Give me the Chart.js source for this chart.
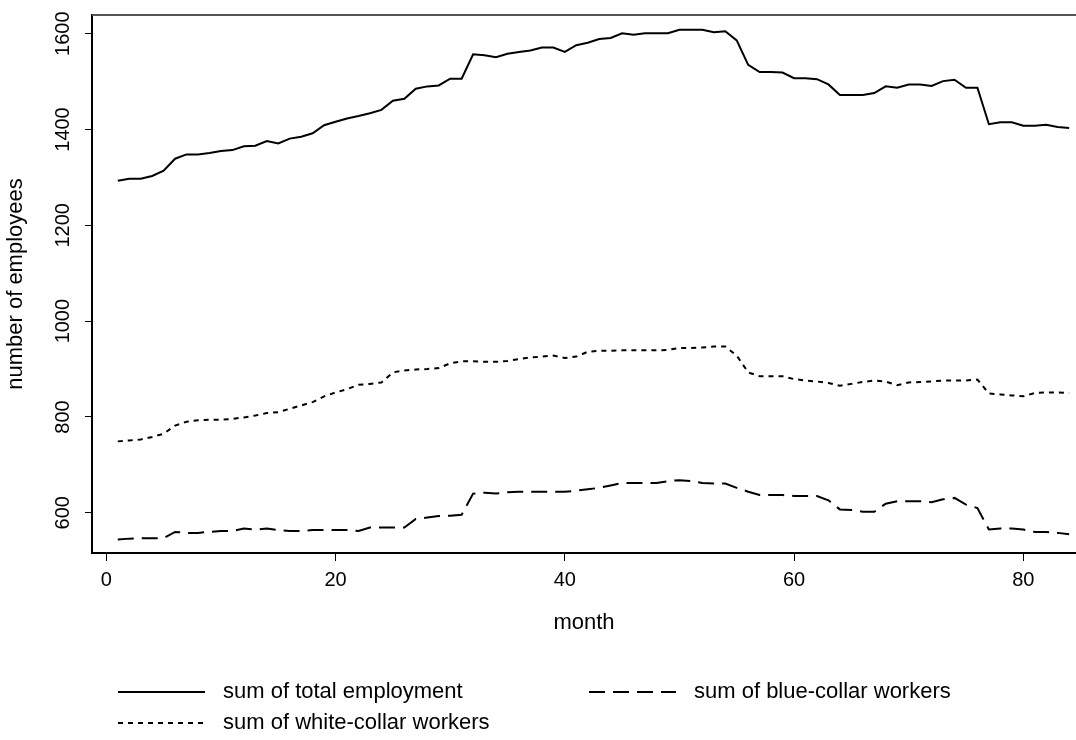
<!DOCTYPE html>
<html>
<head>
<meta charset="utf-8">
<script src="https://cdn.jsdelivr.net/npm/chart.js@4"></script>
<style>
  html, body { margin: 0; padding: 0; background: #fff; }
  canvas { display: block; }
</style>
</head>
<body>
<canvas id="mycanvas" width="1076" height="740"></canvas>
<script>
var months = [1,2,3,4,5,6,7,8,9,10,11,12,13,14,15,16,17,18,19,20,
  21,22,23,24,25,26,27,28,29,30,31,32,33,34,35,36,37,38,39,40,
  41,42,43,44,45,46,47,48,49,50,51,52,53,54,55,56,57,58,59,60,
  61,62,63,64,65,66,67,68,69,70,71,72,73,74,75,76,77,78,79,80,
  81,82,83,84];

var totalEmployment = [1293,1297,1297,1303,1314,1339,1348,1348,1351,1355,
  1357,1365,1366,1376,1371,1381,1385,1392,1409,1416,
  1423,1428,1434,1441,1460,1464,1485,1490,1492,1506,
  1506,1557,1555,1551,1558,1562,1565,1571,1571,1562,
  1576,1581,1589,1591,1601,1598,1601,1601,1601,1608,
  1608,1608,1603,1605,1586,1535,1520,1520,1519,1507,
  1507,1505,1494,1472,1472,1472,1476,1490,1487,1494,
  1494,1491,1501,1504,1487,1487,1411,1415,1415,1408,
  1408,1410,1405,1403];

var whiteCollar = [749,751,753,758,765,782,790,793,794,794,
  796,799,803,808,810,817,824,831,843,851,
  858,867,869,872,893,897,899,900,902,912,
  916,916,915,915,917,921,924,926,928,923,
  926,936,938,938,939,939,939,939,940,944,
  944,945,947,947,928,893,885,885,885,879,
  876,874,871,865,869,873,876,874,866,872,
  873,874,876,876,876,878,849,847,845,843,
  850,851,851,850];

var blueCollar = [544,546,547,547,547,560,558,558,560,562,
  562,567,565,567,564,562,562,564,564,564,
  564,562,569,569,569,569,587,590,593,594,
  596,640,642,640,643,644,644,644,644,644,
  646,649,652,657,662,662,662,662,666,668,
  666,662,661,661,652,644,637,637,637,635,
  635,635,626,607,606,602,602,619,624,624,
  624,622,628,631,617,610,565,567,567,565,
  560,560,558,555];

var xTicks = [0, 20, 40, 60, 80];
var yTicks = [600, 800, 1000, 1200, 1400, 1600];

var FONT = "'Liberation Sans', Arial, sans-serif";

function points(vals) {
  var out = [];
  for (var i = 0; i < months.length; i++) out.push({x: months[i], y: vals[i]});
  return out;
}

// top line of the R box (left/bottom come from the axes)
var boxTop = {
  id: 'boxTop',
  afterDraw: function(chart) {
    var a = chart.chartArea, ctx = chart.ctx;
    ctx.save();
    ctx.strokeStyle = '#555';
    ctx.lineWidth = 2;
    ctx.beginPath();
    ctx.moveTo(a.left, a.top);
    ctx.lineTo(a.right, a.top);
    ctx.stroke();
    ctx.restore();
  }
};

// legend laid out like the R one: two columns, line sample + text
var rLegend = {
  id: 'rLegend',
  afterDraw: function(chart) {
    var ctx = chart.ctx;
    var slots = [
      {ds: 0, x: 118, y: 692},
      {ds: 1, x: 589, y: 692},
      {ds: 2, x: 118, y: 723}
    ];
    ctx.save();
    ctx.font = '22px ' + FONT;
    ctx.textBaseline = 'middle';
    ctx.fillStyle = '#000';
    slots.forEach(function(s) {
      var ds = chart.data.datasets[s.ds];
      ctx.strokeStyle = '#000';
      ctx.lineWidth = 2;
      ctx.setLineDash(ds.borderDash || []);
      ctx.beginPath();
      ctx.moveTo(s.x, s.y);
      ctx.lineTo(s.x + 87, s.y);
      ctx.stroke();
      ctx.setLineDash([]);
      ctx.fillText(ds.label, s.x + 105, s.y);
    });
    ctx.restore();
  }
};

var ctx = document.getElementById('mycanvas');
var chart = new Chart(ctx, {
  type: 'line',
  data: {
    datasets: [
      {label: 'sum of total employment', data: points(totalEmployment), borderDash: []},
      {label: 'sum of blue-collar workers', data: points(blueCollar), borderDash: [16, 8]},
      {label: 'sum of white-collar workers', data: points(whiteCollar), borderDash: [5, 5]}
    ]
  },
  options: {
    responsive: false,
    animation: false,
    layout: {padding: {top: 15, left: 0, right: 0, bottom: 0}},
    elements: {
      line: {borderColor: '#000', borderWidth: 2, tension: 0, fill: false, borderCapStyle: 'butt'},
      point: {radius: 0, hoverRadius: 0}
    },
    plugins: {legend: {display: false}, tooltip: {enabled: false}},
    events: [],
    scales: {
      x: {
        type: 'linear',
        min: -1.25,
        max: 84.6,
        afterBuildTicks: function(scale) { scale.ticks = xTicks.map(function(v) { return {value: v}; }); },
        afterFit: function(scale) { scale.height = 187; },
        grid: {drawOnChartArea: false, drawTicks: true, tickLength: 8, tickColor: '#000', tickWidth: 1},
        border: {display: true, color: '#000', width: 2},
        ticks: {
          color: '#000', font: {family: FONT, size: 20, lineHeight: 1}, padding: 9,
          maxRotation: 0, autoSkip: false,
          callback: function(v) { return String(v); }
        },
        title: {display: true, text: 'month', color: '#000', font: {family: FONT, size: 22}, padding: {top: 0, bottom: 104}}
      },
      y: {
        type: 'linear',
        min: 516,
        max: 1639,
        afterBuildTicks: function(scale) { scale.ticks = yTicks.map(function(v) { return {value: v}; }); },
        afterFit: function(scale) { scale.width = 92; },
        grid: {drawOnChartArea: false, drawTicks: true, tickLength: 7, tickColor: '#000', tickWidth: 1},
        border: {display: true, color: '#000', width: 2},
        ticks: {
          color: '#000', font: {family: FONT, size: 20}, padding: -1,
          minRotation: 90, maxRotation: 90, crossAlign: 'center', autoSkip: false,
          callback: function(v) { return String(v); }
        },
        title: {display: true, text: 'number of employees', color: '#000', font: {family: FONT, size: 22}, padding: {top: 3, bottom: 0}}
      }
    }
  },
  plugins: [boxTop, rLegend]
});
</script>
</body>
</html>
